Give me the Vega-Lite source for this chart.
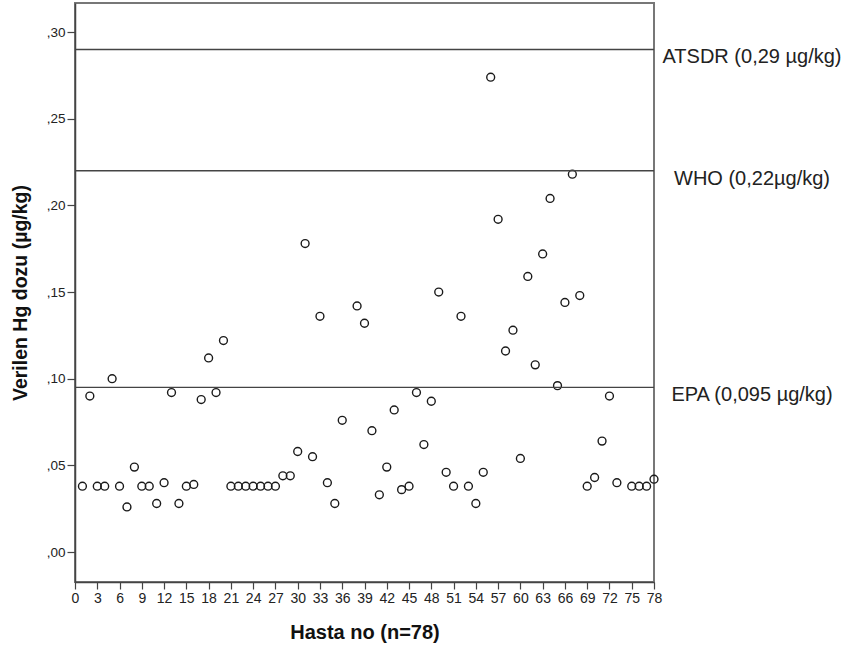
{
  "$schema": "https://vega.github.io/schema/vega-lite/v6.json",
  "autosize": {"type": "none"},
  "padding": {"left": 75, "top": 3, "right": 194, "bottom": 66},
  "width": 579,
  "height": 579,
  "background": "white",
  "config": {
    "font": "Liberation Sans",
    "view": {"stroke": "#777", "strokeWidth": 2},
    "axis": {
      "domainColor": "#444",
      "domainWidth": 1.5,
      "tickColor": "#444",
      "tickWidth": 1.2,
      "labelColor": "#222",
      "titleColor": "#111",
      "grid": false,
      "labelFont": "Liberation Sans",
      "titleFont": "Liberation Sans",
      "labelOverlap": false
    }
  },
  "datasets": {
    "pts": [
      {"n": 1, "dose": 0.038}, {"n": 2, "dose": 0.090}, {"n": 3, "dose": 0.038}, {"n": 4, "dose": 0.038},
      {"n": 5, "dose": 0.100}, {"n": 6, "dose": 0.038}, {"n": 7, "dose": 0.026}, {"n": 8, "dose": 0.049},
      {"n": 9, "dose": 0.038}, {"n": 10, "dose": 0.038}, {"n": 11, "dose": 0.028}, {"n": 12, "dose": 0.040},
      {"n": 13, "dose": 0.092}, {"n": 14, "dose": 0.028}, {"n": 15, "dose": 0.038}, {"n": 16, "dose": 0.039},
      {"n": 17, "dose": 0.088}, {"n": 18, "dose": 0.112}, {"n": 19, "dose": 0.092}, {"n": 20, "dose": 0.122},
      {"n": 21, "dose": 0.038}, {"n": 22, "dose": 0.038}, {"n": 23, "dose": 0.038}, {"n": 24, "dose": 0.038},
      {"n": 25, "dose": 0.038}, {"n": 26, "dose": 0.038}, {"n": 27, "dose": 0.038}, {"n": 28, "dose": 0.044},
      {"n": 29, "dose": 0.044}, {"n": 30, "dose": 0.058}, {"n": 31, "dose": 0.178}, {"n": 32, "dose": 0.055},
      {"n": 33, "dose": 0.136}, {"n": 34, "dose": 0.040}, {"n": 35, "dose": 0.028}, {"n": 36, "dose": 0.076},
      {"n": 38, "dose": 0.142}, {"n": 39, "dose": 0.132}, {"n": 40, "dose": 0.070}, {"n": 41, "dose": 0.033},
      {"n": 42, "dose": 0.049}, {"n": 43, "dose": 0.082}, {"n": 44, "dose": 0.036}, {"n": 45, "dose": 0.038},
      {"n": 46, "dose": 0.092}, {"n": 47, "dose": 0.062}, {"n": 48, "dose": 0.087}, {"n": 49, "dose": 0.150},
      {"n": 50, "dose": 0.046}, {"n": 51, "dose": 0.038}, {"n": 52, "dose": 0.136}, {"n": 53, "dose": 0.038},
      {"n": 54, "dose": 0.028}, {"n": 55, "dose": 0.046}, {"n": 56, "dose": 0.274}, {"n": 57, "dose": 0.192},
      {"n": 58, "dose": 0.116}, {"n": 59, "dose": 0.128}, {"n": 60, "dose": 0.054}, {"n": 61, "dose": 0.159},
      {"n": 62, "dose": 0.108}, {"n": 63, "dose": 0.172}, {"n": 64, "dose": 0.204}, {"n": 65, "dose": 0.096},
      {"n": 66, "dose": 0.144}, {"n": 67, "dose": 0.218}, {"n": 68, "dose": 0.148}, {"n": 69, "dose": 0.038},
      {"n": 70, "dose": 0.043}, {"n": 71, "dose": 0.064}, {"n": 72, "dose": 0.090}, {"n": 73, "dose": 0.040},
      {"n": 75, "dose": 0.038}, {"n": 76, "dose": 0.038}, {"n": 77, "dose": 0.038}, {"n": 78, "dose": 0.042}
    ],
    "refs": [
      {"label": "ATSDR (0,29 µg/kg)", "limit": 0.29},
      {"label": "WHO (0,22µg/kg)", "limit": 0.22},
      {"label": "EPA (0,095 µg/kg)", "limit": 0.095}
    ]
  },
  "layer": [
    {
      "data": {"name": "pts"},
      "mark": {"type": "point", "shape": "circle", "filled": false, "size": 62, "stroke": "#1a1a1a", "strokeWidth": 1.4, "opacity": 1},
      "encoding": {
        "x": {
          "field": "n", "type": "quantitative",
          "scale": {"domain": [0, 78], "nice": false, "zero": false},
          "axis": {
            "title": "Hasta no (n=78)",
            "values": [0,3,6,9,12,15,18,21,24,27,30,33,36,39,42,45,48,51,54,57,60,63,66,69,72,75,78],
            "tickCount": 40,
            "labelFontSize": 14, "labelPadding": 2, "tickSize": 7, "labelOverlap": false, "labelFlush": false,
            "titleFontSize": 20, "titleFontWeight": "bold", "titlePadding": 17
          }
        },
        "y": {
          "field": "dose", "type": "quantitative",
          "scale": {"domain": [-0.0173, 0.3168], "nice": false, "zero": false},
          "axis": {
            "title": "Verilen Hg dozu (µg/kg)",
            "values": [0, 0.05, 0.1, 0.15, 0.2, 0.25, 0.3],
            "tickCount": 20,
            "labelExpr": "replace(format(datum.value, '.2f'), '0.', ',')",
            "labelFontSize": 13.5, "labelPadding": 2, "tickSize": 8,
            "titleFontSize": 19.5, "titleFontWeight": "bold", "titlePadding": 16
          }
        }
      }
    },
    {
      "data": {"name": "refs"},
      "mark": {"type": "rule", "color": "#444", "strokeWidth": 1.4},
      "encoding": {
        "y": {"field": "limit", "type": "quantitative"}
      }
    },
    {
      "data": {"name": "refs"},
      "mark": {"type": "text", "align": "center", "baseline": "middle", "dx": 98, "dy": 8, "fontSize": 20, "color": "#222", "font": "Liberation Sans"},
      "encoding": {
        "x": {"datum": 78, "type": "quantitative"},
        "y": {"field": "limit", "type": "quantitative"},
        "text": {"field": "label"}
      }
    }
  ]
}
